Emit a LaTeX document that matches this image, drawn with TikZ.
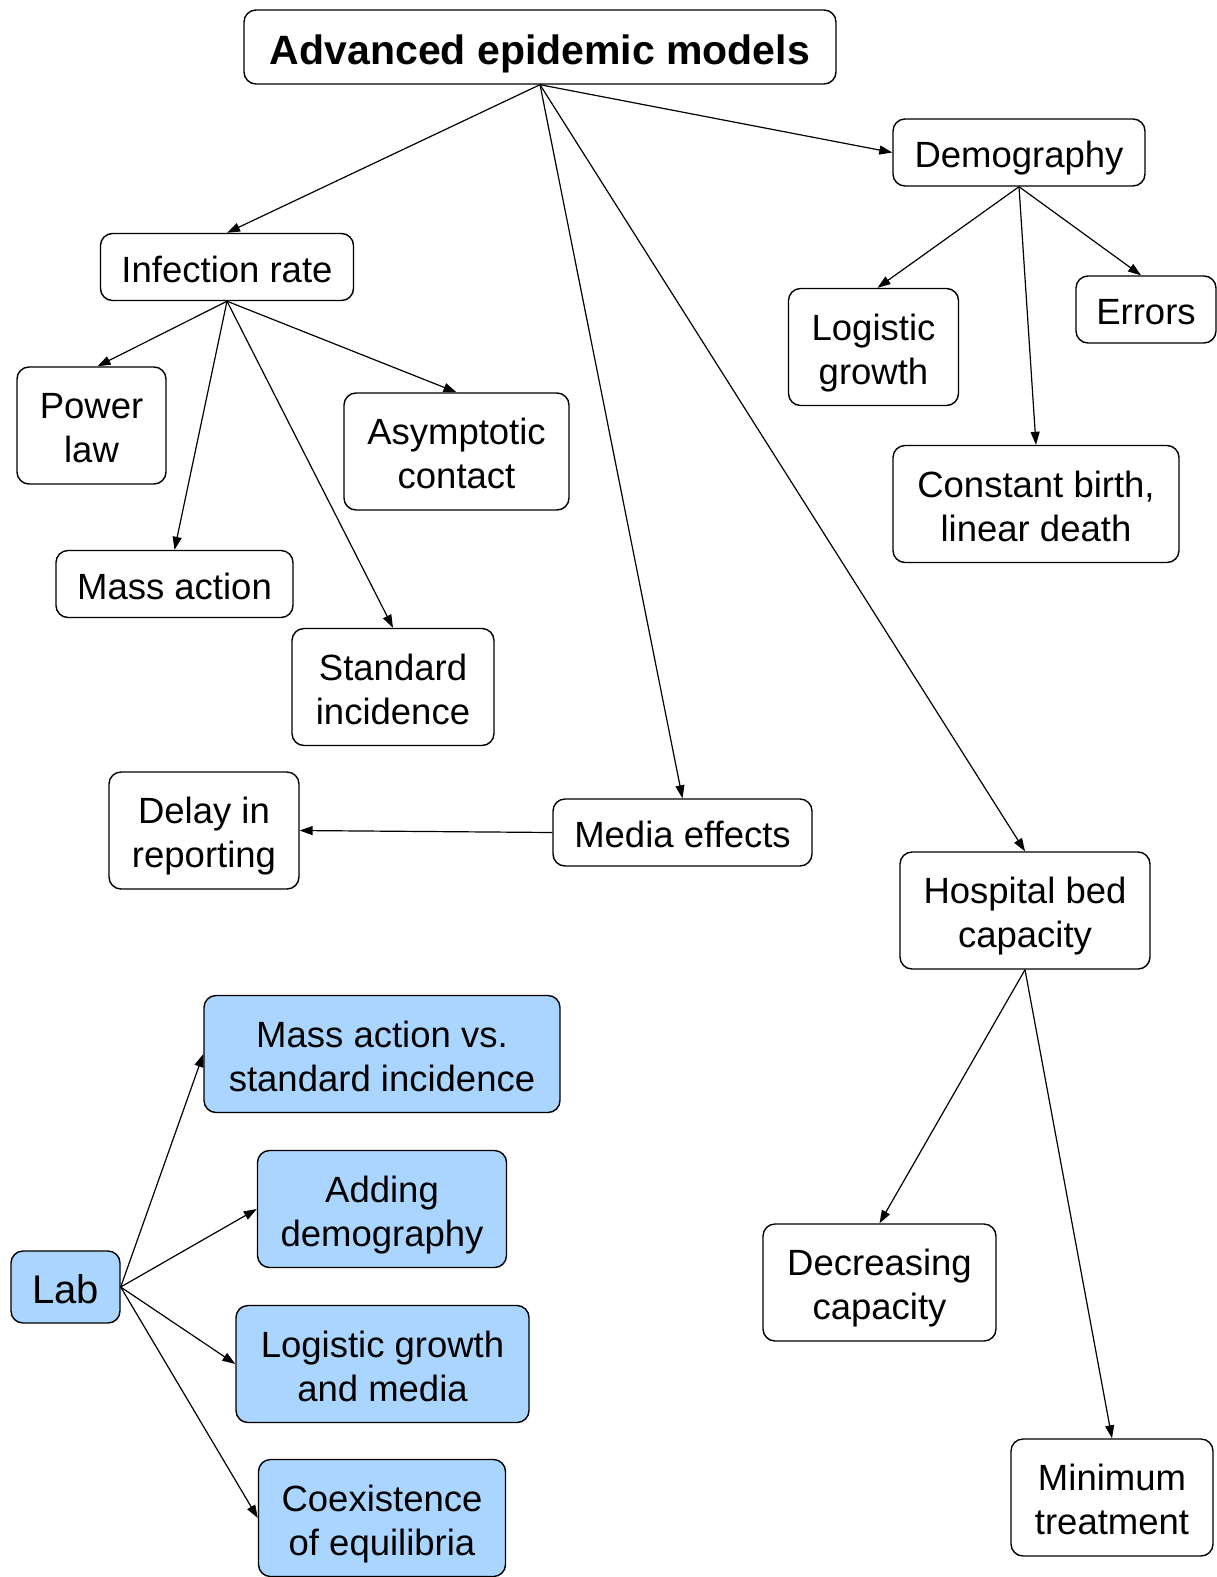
\documentclass[tikz,border=0pt]{standalone}
\usepackage{fontspec}
\setmainfont{Liberation Sans}
\usetikzlibrary{arrows.meta}
\definecolor{labblue}{RGB}{170,213,255}
\begin{document}
\begin{tikzpicture}[x=1pt,y=-1pt,
 box/.style={draw, rounded corners=12pt, line width=1.4pt, align=center, inner sep=0pt, font=\fontsize{36.5}{44}\selectfont, text height=30pt, text depth=0pt},
 two/.style={text height=74pt, text depth=0pt},
 labbox/.style={box, fill=labblue},
 conn/.style={-{Triangle[length=13pt,width=9pt]}, line width=1.2pt}]
\useasboundingbox (0,0) rectangle (1217,1577);
\node[box, minimum width=592pt, minimum height=74pt, font=\bfseries\fontsize{41}{49}\selectfont, text height=34pt] (title) at (540,47) {Advanced epidemic models};
\node[box, minimum width=252pt, minimum height=67pt] (demo) at (1019,152.5) {Demography};
\node[box, minimum width=253pt, minimum height=67pt] (inf) at (227,267) {Infection rate};
\node[box, two, minimum width=149pt, minimum height=117pt] (power) at (91.5,425.5) {Power\\law};
\node[box, two, minimum width=225pt, minimum height=117pt] (asym) at (456.5,451.5) {Asymptotic\\contact};
\node[box, minimum width=237pt, minimum height=67pt] (mass) at (174.5,584) {Mass action};
\node[box, two, minimum width=202pt, minimum height=117pt] (std) at (393,687) {Standard\\incidence};
\node[box, two, minimum width=170pt, minimum height=117pt] (logi) at (873.5,347) {Logistic\\growth};
\node[box, minimum width=140pt, minimum height=67pt] (err) at (1146,309.5) {Errors};
\node[box, two, minimum width=286pt, minimum height=117pt] (const) at (1036,504) {Constant birth,\\linear death};
\node[box, two, minimum width=190pt, minimum height=117pt] (delay) at (204,830.5) {Delay in\\reporting};
\node[box, minimum width=259pt, minimum height=67pt] (media) at (682.5,832.5) {Media effects};
\node[box, two, minimum width=250pt, minimum height=117pt] (hosp) at (1025,910.5) {Hospital bed\\capacity};
\node[box, two, minimum width=233pt, minimum height=117pt] (decr) at (879.5,1282.5) {Decreasing\\capacity};
\node[box, two, minimum width=202pt, minimum height=117pt] (mini) at (1112,1497.5) {Minimum\\treatment};
\node[labbox, minimum width=109pt, minimum height=72pt, font=\fontsize{40}{48}\selectfont, text height=33pt] (lab) at (65.5,1287) {Lab};
\node[labbox, two, minimum width=356pt, minimum height=117pt] (l1) at (382,1054) {Mass action vs.\\standard incidence};
\node[labbox, two, minimum width=249pt, minimum height=117pt] (l2) at (382,1209) {Adding\\demography};
\node[labbox, two, minimum width=293pt, minimum height=117pt] (l3) at (382.5,1364) {Logistic growth\\and media};
\node[labbox, two, minimum width=247pt, minimum height=117pt] (l4) at (382,1518) {Coexistence\\of equilibria};
\draw[conn] (title.south) -- (inf.north);
\draw[conn] (title.south) -- (demo.west);
\draw[conn] (title.south) -- (media.north);
\draw[conn] (title.south) -- (hosp.north);
\draw[conn] (inf.south) -- ([xshift=6pt]power.north);
\draw[conn] (inf.south) -- (mass.north);
\draw[conn] (inf.south) -- (std.north);
\draw[conn] (inf.south) -- (asym.north);
\draw[conn] (demo.south) -- ([xshift=4pt]logi.north);
\draw[conn] (demo.south) -- (const.north);
\draw[conn] (demo.south) -- ([xshift=-5pt]err.north);
\draw[conn] (media.west) -- (delay.east);
\draw[conn] (hosp.south) -- (decr.north);
\draw[conn] (hosp.south) -- (mini.north);
\draw[conn] (lab.east) -- (l1.west);
\draw[conn] (lab.east) -- (l2.west);
\draw[conn] (lab.east) -- (l3.west);
\draw[conn] (lab.east) -- (l4.west);
\end{tikzpicture}
\end{document}
